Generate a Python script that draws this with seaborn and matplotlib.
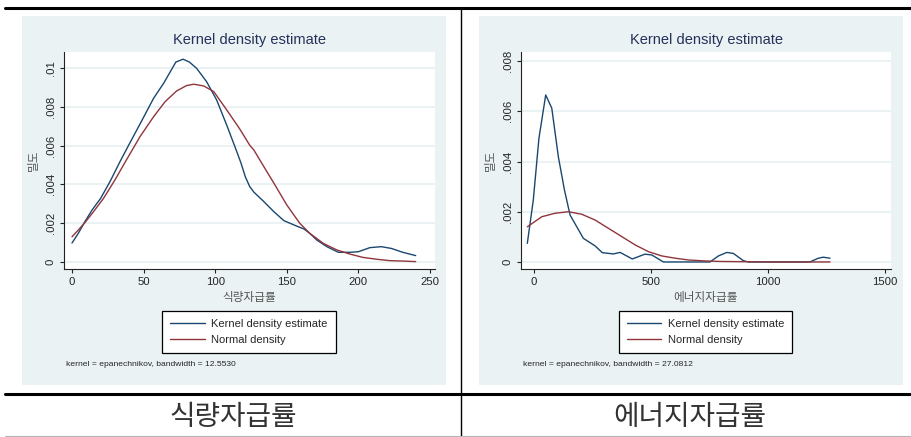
import numpy as np
import pandas as pd
import seaborn as sns
import matplotlib.pyplot as plt

# --- data ---
food_kde_x = [0, 4.4, 9, 14, 20, 26.5, 33.5, 39, 49, 57, 64, 72.5, 77.5, 82, 87, 94,
              101, 108, 115, 118, 121, 124, 127, 134, 141, 148, 155, 162, 166, 171,
              178, 186, 194, 200, 208, 216, 223, 231, 240]
food_kde_y = [0.00098, 0.00148, 0.00208, 0.00268, 0.00328, 0.00414, 0.00517, 0.00594,
              0.00732, 0.00844, 0.00921, 0.01030, 0.01045, 0.01030, 0.00998, 0.00929,
              0.00835, 0.00706, 0.00570, 0.00510, 0.00440, 0.00390, 0.00360, 0.00311,
              0.00259, 0.00213, 0.00191, 0.00170, 0.00148, 0.00113, 0.00079, 0.00050,
              0.00050, 0.00053, 0.00074, 0.00079, 0.00070, 0.00050, 0.00033]
food_norm_x = [0, 4.4, 9, 15, 22, 30, 38, 47.5, 57, 65, 73, 80, 85, 92, 99, 108, 117,
               124, 127, 134, 141, 150, 159, 166, 175.5, 185, 194, 203, 213, 222, 231, 240]
food_norm_y = [0.00130, 0.00165, 0.00203, 0.00259, 0.00328, 0.00423, 0.00526, 0.00646,
               0.00749, 0.00826, 0.00881, 0.00909, 0.00916, 0.00907, 0.00878, 0.00784,
               0.00687, 0.00603, 0.00577, 0.00491, 0.00406, 0.00294, 0.00200, 0.00148,
               0.00096, 0.00062, 0.00041, 0.00024, 0.00014, 0.00007, 0.00005, 0.00002]

energy_kde_x = [-28.6, -3, 21, 50, 76, 104, 130, 154, 211, 261, 292, 339, 368, 420, 474,
                503, 553, 667, 752, 788, 824, 852, 895, 916, 1179, 1215, 1236, 1265]
energy_kde_y = [0.00074, 0.00247, 0.00492, 0.00665, 0.00612, 0.00419, 0.00287, 0.00187,
                0.00094, 0.00064, 0.00037, 0.00032, 0.00038, 0.00012, 0.00031, 0.00028,
                0, 0, 0, 0.00024, 0.00038, 0.00034, 0.00005, 0, 0, 0.00015, 0.00019, 0.00015]
energy_norm_x = [-28.6, 33, 90, 147, 204, 261, 318, 375, 432, 489, 546, 603, 659, 731,
                 800, 900, 1000, 1265]
energy_norm_y = [0.00140, 0.00180, 0.00194, 0.00200, 0.00190, 0.00167, 0.00134, 0.00101,
                 0.00068, 0.00041, 0.00024, 0.00015, 0.00008, 0.00004, 0.00002, 0.00001, 0, 0]

food_xticks = [0, 50, 100, 150, 200, 250]
food_yticks = [0, 0.002, 0.004, 0.006, 0.008, 0.01]
food_ylabels = ["0", ".002", ".004", ".006", ".008", ".01"]
energy_xticks = [0, 500, 1000, 1500]
energy_yticks = [0, 0.002, 0.004, 0.006, 0.008]
energy_ylabels = ["0", ".002", ".004", ".006", ".008"]

names = ["식량자급률", "에너지자급률"]
notes = ["kernel = epanechnikov, bandwidth = 12.5530",
         "kernel = epanechnikov, bandwidth = 27.0812"]

sns.set_style("white")
plt.rcParams['font.family'] = ['Liberation Sans', 'Noto Sans CJK KR', 'DejaVu Sans']
KR = ['Noto Sans CJK KR', 'DejaVu Sans']

NAVY = "#1a476f"
MAROON = "#90353b"
BG = "#eaf2f3"
W, H = 911, 437

fig = plt.figure(figsize=(W / 100, H / 100), dpi=100)

# overlay in pixel coords for the table frame and the gray panels
bg = fig.add_axes([0, 0, 1, 1])
bg.set_xlim(0, W)
bg.set_ylim(H, 0)
bg.axis("off")
for x0, x1 in [(22, 446), (479, 903)]:
    bg.add_patch(plt.Rectangle((x0, 16), x1 - x0, 369, color=BG, lw=0))
bg.plot([5, W], [7.5, 7.5], color="black", lw=2.2)
bg.plot([5, W], [394, 394], color="black", lw=2.2)
bg.plot([461, 461], [7.5, H], color="black", lw=1.0)
bg.plot([5, W], [436, 436], color="#b5b5b5", lw=0.8)


def panel(px0, px1, xlim, ylim, kx, ky, nx, ny, xt, yt, yl, name, note):
    ax = fig.add_axes([px0 / W, (H - 269) / H, (px1 - px0) / W, 217 / H])
    ax.set_facecolor("white")
    sns.lineplot(x=kx, y=ky, ax=ax, color=NAVY, lw=1.0, label="Kernel density estimate")
    sns.lineplot(x=nx, y=ny, ax=ax, color=MAROON, lw=1.0, label="Normal density")
    ax.set_xlim(*xlim)
    ax.set_ylim(*ylim)
    ax.set_xticks(xt)
    ax.set_xticklabels([str(t) for t in xt], fontsize=8.2)
    ax.set_yticks(yt)
    ax.set_yticklabels(yl, fontsize=8.2, rotation=90, va="center")
    ax.yaxis.grid(True, color=BG, lw=1.5)
    ax.set_axisbelow(True)
    for s in ["top", "right"]:
        ax.spines[s].set_visible(False)
    for s in ["left", "bottom"]:
        ax.spines[s].set_color("#222222")
        ax.spines[s].set_linewidth(0.8)
    ax.tick_params(direction="out", length=3, width=0.8, color="#222222", pad=3,
                   left=True, bottom=True)
    ax.set_xlabel("")
    ax.set_ylabel("")
    h, lab = ax.get_legend_handles_labels()
    ax.legend_.remove()
    cx = (px0 + px1) / 2
    bg.text(cx, 40, "Kernel density estimate", ha="center", va="center",
            fontsize=10.5, color="#24315a")
    bg.text(cx, 297, name, ha="center", va="center", fontsize=8.4,
            color="#555555", family=KR)
    bg.text(px0 - 31, 160, "밀도", ha="center", va="center", rotation=90,
            fontsize=8.4, color="#555555", family=KR)
    bg.text(px0 + 2, 365, note, ha="left", va="center", fontsize=6.1)
    leg = fig.legend(h, lab, loc="center", bbox_to_anchor=((cx - 0.5) / W, 1 - 332 / H),
                     fontsize=8.0, frameon=True, fancybox=False, framealpha=1,
                     edgecolor="black", handlelength=3.1, handletextpad=0.6,
                     labelspacing=0.6, borderpad=0.7)
    leg.get_frame().set_linewidth(0.9)
    return ax


panel(64, 435, (-5.6, 253.5), (-0.00036, 0.01082),
      food_kde_x, food_kde_y, food_norm_x, food_norm_y,
      food_xticks, food_yticks, food_ylabels, names[0], notes[0])
panel(521, 891, (-55.6, 1525.6), (-0.00028, 0.00836),
      energy_kde_x, energy_kde_y, energy_norm_x, energy_norm_y,
      energy_xticks, energy_yticks, energy_ylabels, names[1], notes[1])

# table captions under each panel
for cx, name in zip([233, 690], names):
    bg.text(cx, 417, name, ha="center", va="center", fontsize=20,
            color="#333333", family=KR, fontweight="light")

fig.savefig("out.png", dpi=100)
